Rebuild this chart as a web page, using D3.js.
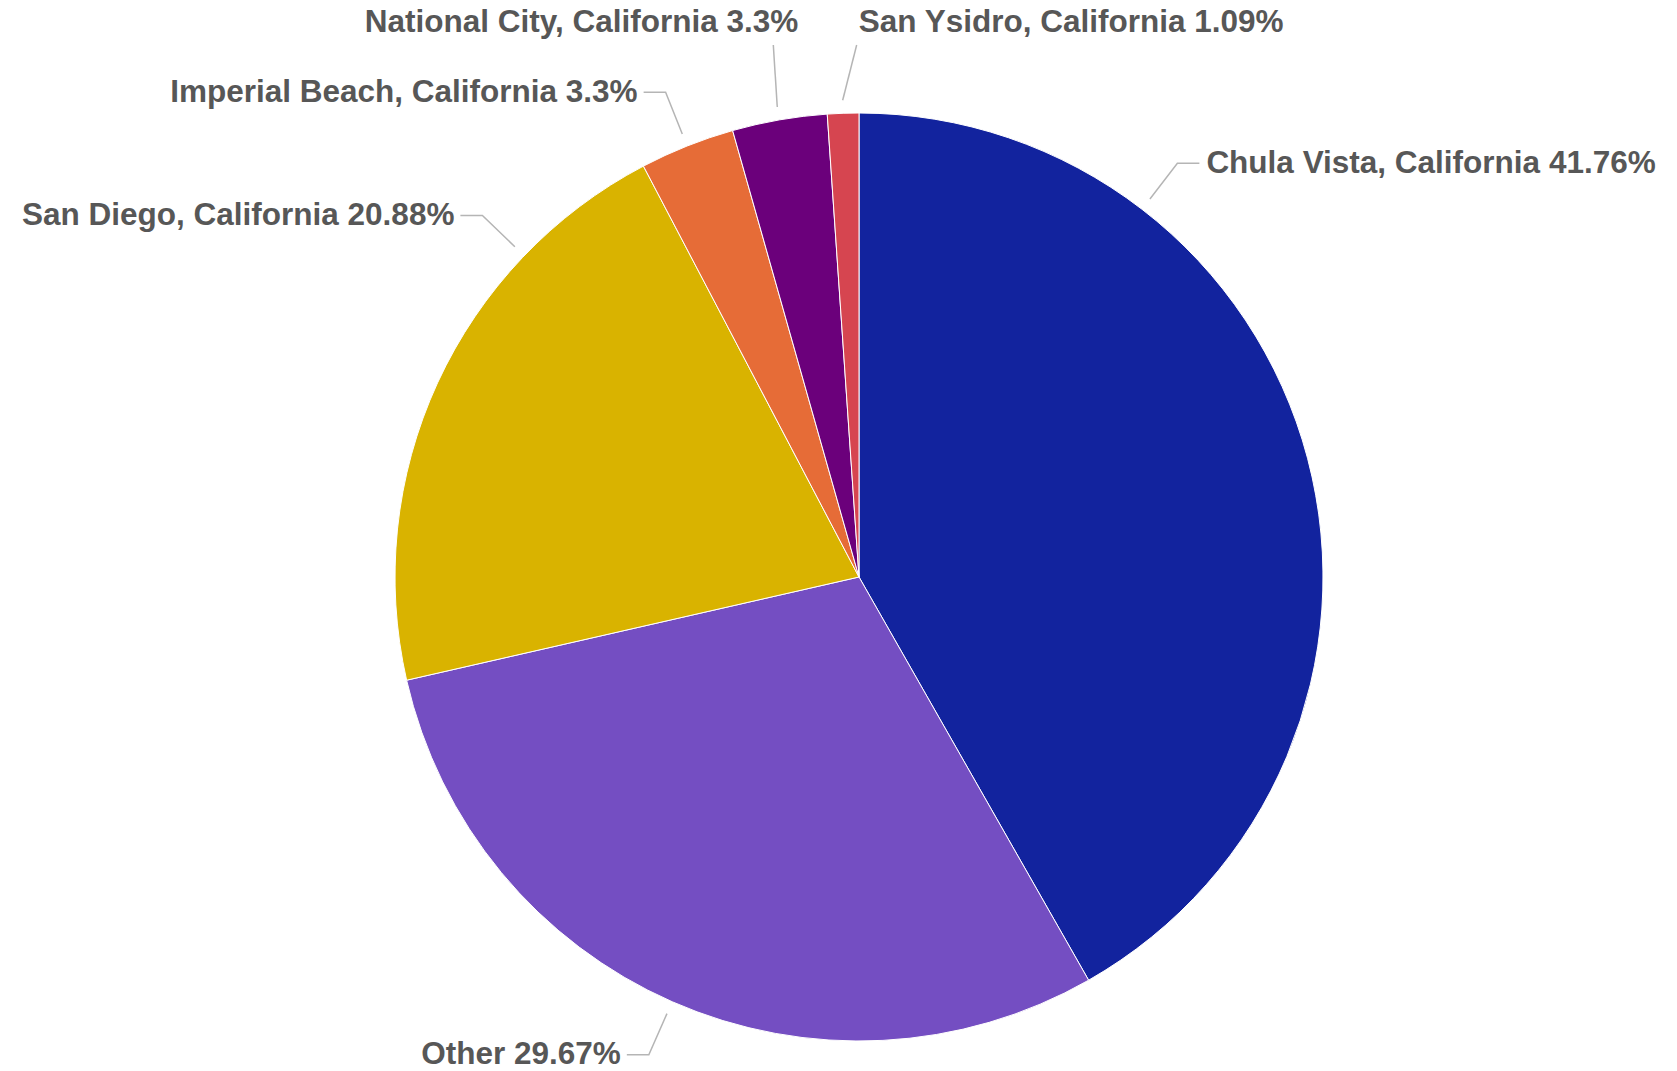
<!DOCTYPE html>
<html>
<head>
<meta charset="utf-8">
<script src="https://cdn.jsdelivr.net/npm/d3@7"></script>
<style>
  html, body { margin: 0; padding: 0; background: #ffffff; }
  svg { display: block; }
</style>
</head>
<body>
<svg id="chart" width="1677" height="1071"></svg>
<script>
// ---- Data ----
const categories = [
  "Chula Vista, California",
  "Other",
  "San Diego, California",
  "Imperial Beach, California",
  "National City, California",
  "San Ysidro, California"
];
const percentages = [41.76, 29.67, 20.88, 3.3, 3.3, 1.09];
const percentLabels = ["41.76%", "29.67%", "20.88%", "3.3%", "3.3%", "1.09%"];
const colors = ["#12239E", "#744EC2", "#D9B300", "#E66C37", "#6B007B", "#D64550"];

// ---- Label layout (where along each slice the leader line starts, and label style) ----
const labelFraction = [0.25, 0.5, 0.754, 0.5, 0.5, 0.5];
const labelMode = ["side", "side", "side", "side", "top", "top"];
const topShift = [0, 0, 0, 0, -4, 14];      // horizontal lean of top leader lines
const topTextOffset = [0, 0, 0, 0, 25, 2];  // text offset from top leader end

const W = 1677, H = 1071;
const cx = 859, cy = 577, R = 464;

const svg = d3.select("#chart");
const g = svg.append("g").attr("transform", `translate(${cx},${cy})`);

const data = categories.map((c, i) => ({ name: c, value: percentages[i], label: percentLabels[i], color: colors[i], i }));

const pie = d3.pie().sort(null).value(d => d.value).startAngle(0).endAngle(2 * Math.PI);
const arcs = pie(data);
const arc = d3.arc().innerRadius(0).outerRadius(R);

g.selectAll("path.slice")
  .data(arcs)
  .enter().append("path")
  .attr("class", "slice")
  .attr("d", arc)
  .attr("fill", d => d.data.color)
  .attr("stroke", "#ffffff")
  .attr("stroke-width", 1);

const lineColor = "#b5b5b5";
const textColor = "#575757";
const fontFamily = "'Liberation Sans', Arial, sans-serif";
const fontSize = 31.5;

function polar(angle, r) {
  return [Math.sin(angle) * r, -Math.cos(angle) * r];
}

const labels = g.append("g");
arcs.forEach(a => {
  const i = a.data.i;
  const ang = a.startAngle + (a.endAngle - a.startAngle) * labelFraction[i];
  const p0 = polar(ang, R + 13);
  const text = `${a.data.name} ${a.data.label}`;
  if (labelMode[i] === "side") {
    const p1 = polar(ang, R + 58);
    const right = Math.sin(ang) > 0;
    const p2 = [p1[0] + (right ? 22 : -22), p1[1]];
    labels.append("path")
      .attr("d", d3.line()([p0, p1, p2]))
      .attr("fill", "none")
      .attr("stroke", lineColor)
      .attr("stroke-width", 1.5);
    labels.append("text")
      .attr("x", p2[0] + (right ? 7 : -6))
      .attr("y", p2[1])
      .attr("dy", "0.3em")
      .attr("text-anchor", right ? "start" : "end")
      .attr("font-family", fontFamily)
      .attr("font-weight", "bold")
      .attr("font-size", fontSize)
      .attr("fill", textColor)
      .text(text);
  } else {
    const endY = -cy + 45;
    const p1 = [p0[0] + topShift[i], endY];
    const right = topShift[i] > 0;
    labels.append("path")
      .attr("d", d3.line()([p0, p1]))
      .attr("fill", "none")
      .attr("stroke", lineColor)
      .attr("stroke-width", 1.5);
    labels.append("text")
      .attr("x", p1[0] + topTextOffset[i])
      .attr("y", endY - 24)
      .attr("dy", "0.35em")
      .attr("text-anchor", right ? "start" : "end")
      .attr("font-family", fontFamily)
      .attr("font-weight", "bold")
      .attr("font-size", fontSize)
      .attr("fill", textColor)
      .text(text);
  }
});
</script>
</body>
</html>
